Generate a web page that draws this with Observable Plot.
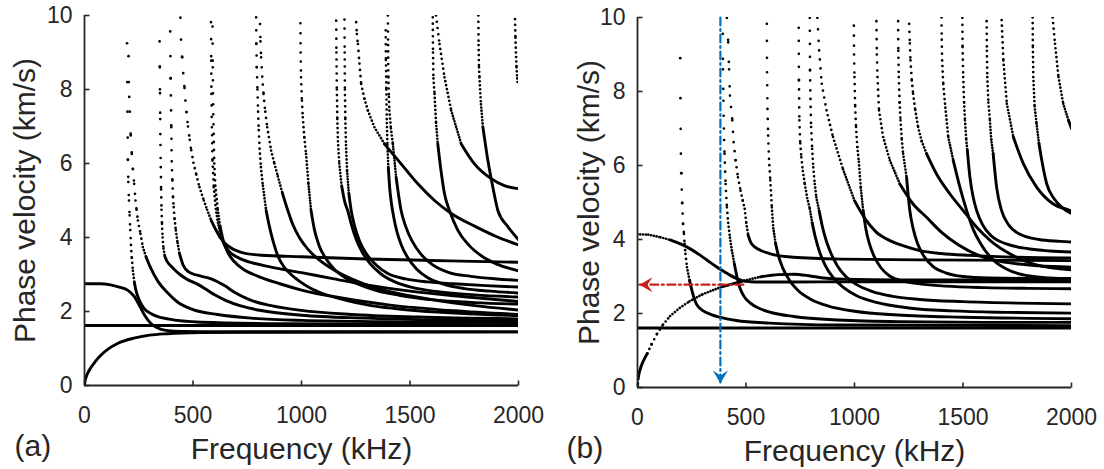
<!DOCTYPE html>
<html><head><meta charset="utf-8">
<script src="https://cdn.jsdelivr.net/npm/d3@7"></script>
<script src="https://cdn.jsdelivr.net/npm/@observablehq/plot@0.6"></script>
<style>
html,body{margin:0;padding:0;background:#fff;}
#wrap{position:relative;width:1104px;height:469px;overflow:hidden;background:#fff;}
.panel{position:absolute;top:0;}
</style></head><body>
<div id="wrap"><div id="pa" class="panel" style="left:0"></div><div id="pb" class="panel" style="left:552px"></div></div>
<script>
// ---------- labels and ticks ----------
const xTicks = [0, 500, 1000, 1500, 2000];
const yTicks = [0, 2, 4, 6, 8, 10];
const xLabel = "Frequency (kHz)";
const yLabel = "Phase velocity (km/s)";
const tagA = "(a)";
const tagB = "(b)";

// ---------- panel (a) modes: [frequency kHz, phase velocity km/s] ----------
const modeA00 = [[0,1.62],[2000,1.62]];
const modeA01 = [[0,0],[2,0.1],[6,0.2],[13,0.31],[28,0.47],[50,0.65],[74,0.81],[110,0.99],[150,1.13],[227,1.28],[300,1.36],[381,1.40],[535,1.43],[800,1.44],[2000,1.45]];
const modeA02 = [[0,2.75],[70,2.75],[120,2.72],[160,2.66],[200,2.57],[230,2.40],[255,2.14],[280,1.87],[305,1.68],[335,1.56],[375,1.49],[450,1.46],[700,1.455],[2000,1.45]];
const modeA03 = [[196,9.25],[197,8.2],[198,7.4],[199,6.7],[200,6.1],[202,5.5],[205,5.0],[208,4.6],[211,4.2],[214,3.8],[218,3.45],[223,3.1],[230,2.78],[238,2.55],[253,2.3],[276,2.07],[307,1.94],[384,1.80],[538,1.71],[922,1.67],[2000,1.64]];
const modeA04 = [[203,8.9],[204,8.2],[206,7.8],[209,7.4],[213,6.76],[218,6.26],[223,5.85],[229,5.45],[235,5.0],[240,4.75],[246,4.46],[258,4.1],[269,3.74],[284,3.47],[307,3.15],[340,2.8],[384,2.5],[430,2.25],[500,2.05],[614,1.92],[768,1.82],[1000,1.76],[1500,1.72],[2000,1.70]];
const modeA05 = [[346,9.3],[347,8.6],[348,7.9],[349,7.2],[350,6.5],[351.5,5.9],[353,5.3],[355,4.75],[357,4.37],[360,4.0],[364,3.7],[370,3.5],[378,3.38],[395,3.25],[415,3.13],[440,3.0],[470,2.88],[520,2.74],[560,2.6],[600,2.45],[650,2.3],[720,2.15],[820,2.02],[1000,1.9],[1300,1.82],[2000,1.74]];
const modeA06 = [[395,9.57],[396,8.9],[397,8.3],[398,7.84],[400,6.98],[402,6.06],[405,5.54],[408,5.09],[411,4.82],[415,4.5],[421,4.19],[429,3.85],[438,3.56],[455,3.25],[480,3.07],[520,2.98],[584,2.88],[645,2.7],[691,2.52],[768,2.3],[860,2.16],[998,2.03],[1229,1.92],[1536,1.85],[2000,1.8]];
const modeA07 = [[442,9.94],[445,9.35],[450,8.87],[455,8.44],[461,8.04],[465,7.7],[470,7.39],[477,7.0],[485,6.64],[492,6.36],[502,6.02],[515,5.7],[530,5.36],[550,5.0],[565,4.75],[584,4.46],[607,4.19],[630,3.96],[660,3.78],[722,3.6],[814,3.52],[1000,3.48],[1300,3.42],[1600,3.38],[2000,3.33]];
const modeA08 = [[583,9.82],[584,8.78],[585,7.88],[587,6.98],[590,6.08],[596,5.36],[605,4.77],[615,4.4],[628,4.05],[645,3.8],[670,3.6],[710,3.45],[770,3.32],[860,3.2],[1000,3.05],[1150,2.88],[1300,2.72],[1500,2.55],[1750,2.4],[2000,2.27]];
const modeA09 = [[590,9.7],[591,8.6],[593,7.6],[595,6.8],[598,6.0],[603,5.4],[614,4.75],[625,4.3],[640,3.9],[660,3.6],[690,3.35],[730,3.15],[800,2.95],[900,2.75],[1000,2.58],[1200,2.35],[1400,2.18],[1700,2.02],[2000,1.92]];
const modeA10 = [[791,9.95],[792,9.23],[794,8.6],[797,8.0],[800,7.4],[803,6.9],[807,6.4],[813,5.9],[822,5.4],[837,4.73],[852,4.3],[868,3.92],[891,3.5],[920,3.2],[952,3.0],[1000,2.78],[1044,2.62],[1100,2.48],[1167,2.36],[1250,2.24],[1321,2.16],[1430,2.08],[1536,2.02],[1766,1.94],[2000,1.89]];
const modeA11 = [[809,9.77],[811,9.3],[814,8.87],[819,8.35],[825,7.88],[833,7.4],[842,6.98],[860,6.35],[875,6.0],[891,5.65],[912,5.2],[937,4.73],[960,4.35],[990,4.0],[1030,3.68],[1080,3.4],[1150,3.12],[1230,2.88],[1330,2.66],[1450,2.48],[1600,2.32],[1800,2.16],[2000,2.04]];
const modeA12 = [[995,9.79],[996,9.0],[998,8.33],[1002,7.7],[1006,7.25],[1013,6.7],[1021,6.26],[1032,5.45],[1044,4.73],[1060,4.2],[1080,3.8],[1110,3.45],[1150,3.15],[1200,2.92],[1270,2.72],[1350,2.56],[1450,2.44],[1600,2.32],[1800,2.24],[2000,2.2]];
const modeA13 = [[1160,9.86],[1161,9.0],[1163,8.0],[1165,7.2],[1168,6.6],[1174,6.0],[1185,5.4],[1200,4.95],[1213,4.73],[1230,4.35],[1252,3.95],[1280,3.6],[1315,3.3],[1365,3.02],[1430,2.8],[1510,2.65],[1620,2.54],[1800,2.45],[2000,2.39]];
const modeA14 = [[1198,9.89],[1199,9.0],[1200,8.0],[1202,7.2],[1205,6.5],[1210,5.8],[1218,5.2],[1229,4.73],[1245,4.3],[1268,3.9],[1300,3.55],[1345,3.25],[1400,3.02],[1480,2.88],[1580,2.8],[1700,2.75],[1850,2.7],[2000,2.66]];
const modeA15 = [[1252,9.82],[1255,9.5],[1260,9.23],[1267,8.7],[1275,8.15],[1290,7.75],[1306,7.43],[1336,6.98],[1382,6.53],[1459,5.99],[1536,5.45],[1613,5.0],[1690,4.65],[1800,4.3],[1900,4.02],[2000,3.8]];
const modeA16 = [[1398,10.0],[1399,9.2],[1400,8.33],[1403,7.8],[1405,7.43],[1412,6.95],[1421,6.53],[1436,5.63],[1459,4.73],[1480,4.3],[1510,3.9],[1550,3.55],[1600,3.28],[1680,3.05],[1780,2.95],[1900,2.88],[2000,2.84]];
const modeA17 = [[1388,9.6],[1389,8.8],[1391,8.0],[1393,7.2],[1396,6.5],[1400,5.9],[1407,5.3],[1415,4.9],[1425,4.55],[1440,4.15],[1460,3.8],[1490,3.45],[1530,3.15],[1580,2.92],[1650,2.75],[1750,2.62],[1870,2.55],[2000,2.5]];
const modeA18 = [[1605,9.95],[1606,9.0],[1608,8.3],[1613,7.88],[1620,7.1],[1628,6.53],[1643,5.8],[1659,5.18],[1682,4.73],[1720,4.2],[1770,3.8],[1830,3.5],[1900,3.28],[2000,3.1]];
const modeA19 = [[1620,10.0],[1636,9.23],[1659,8.33],[1690,7.43],[1736,6.53],[1797,5.99],[1874,5.59],[1935,5.4],[2000,5.32]];
const modeA20 = [[1815,10.0],[1816,9.2],[1818,8.6],[1820,8.33],[1827,7.6],[1836,6.98],[1859,6.08],[1882,5.35],[1905,4.73],[1950,4.3],[2000,3.94]];
const modeA21 = [[1984,9.9],[1986,9.4],[1988,9.0],[1991,8.6],[1994,8.3],[1997,8.15]];

// ---------- panel (b) modes ----------
const modeB00 = [[0,1.61],[2000,1.61]];
const modeB01 = [[0,0],[1,0.12],[3,0.24],[8,0.4],[16,0.56],[28,0.73],[45,0.92],[65,1.17],[90,1.45],[118,1.7],[150,1.93],[195,2.15],[240,2.33],[300,2.52],[388,2.72],[480,2.87],[566,2.99],[650,3.05],[720,3.06],[790,3.02],[855,2.96],[950,2.93],[1200,2.91],[2000,2.91]];
const modeB02 = [[0,4.14],[50,4.13],[106,4.06],[150,3.99],[198,3.88],[245,3.74],[290,3.57],[330,3.4],[367,3.25],[400,3.13],[428,3.03],[455,2.95],[482,2.89],[520,2.86],[566,2.85],[700,2.85],[1000,2.86],[2000,2.86]];
const modeB03 = [[197,8.9],[198,7.82],[199,6.99],[200,6.32],[202,5.79],[204,5.35],[206,4.98],[208,4.7],[210,4.42],[214,4.15],[217,3.88],[221,3.61],[228,3.25],[240,2.89],[255,2.53],[271,2.26],[301,2.08],[340,1.97],[378,1.9],[455,1.81],[609,1.74],[917,1.69],[2000,1.67]];
const modeB04 = [[393,9.56],[394,8.6],[396,7.75],[398,7.0],[401,6.32],[406,5.5],[412,4.87],[418,4.45],[426,4.05],[435,3.7],[446,3.35],[458,3.0],[471,2.71],[490,2.47],[520,2.28],[560,2.14],[620,2.02],[720,1.92],[900,1.83],[1200,1.78],[1600,1.76],[2000,1.76]];
const modeB05 = [[412,9.99],[418,9.33],[422,8.6],[426,7.89],[437,7.22],[443,6.63],[452,6.14],[463,5.68],[475,5.32],[485,5.05],[494,4.83],[501,4.45],[510,4.12],[522,3.92],[540,3.8],[566,3.71],[609,3.62],[718,3.52],[935,3.47],[1300,3.45],[2000,3.43]];
const modeB06 = [[596,9.83],[597,8.52],[599,7.53],[602,6.81],[606,6.18],[612,5.6],[619,4.87],[626,4.3],[636,3.9],[650,3.55],[670,3.22],[700,2.9],[740,2.62],[800,2.38],[880,2.2],[1000,2.06],[1200,1.96],[1500,1.9],[2000,1.86]];
const modeB07 = [[743,9.72],[744,8.3],[746,7.22],[750,6.6],[755,6.22],[762,5.85],[771,5.5],[782,5.12],[794,4.83],[805,4.45],[820,4.05],[840,3.65],[865,3.3],[900,2.98],[950,2.7],[1010,2.48],[1100,2.3],[1250,2.15],[1450,2.07],[1700,2.03],[2000,2.01]];
const modeB08 = [[794,9.99],[795,8.57],[797,7.8],[800,7.04],[805,6.45],[810,5.95],[817,5.5],[824,5.14],[837,4.78],[850,4.4],[868,4.0],[890,3.65],[920,3.3],[960,3.0],[1010,2.78],[1080,2.6],[1170,2.47],[1300,2.38],[1500,2.32],[1750,2.28],[2000,2.26]];
const modeB09 = [[829,9.99],[837,9.11],[849,8.21],[871,7.49],[901,6.77],[947,5.9],[1000,5.05],[1050,4.55],[1100,4.2],[1163,3.97],[1230,3.82],[1301,3.7],[1400,3.62],[1532,3.57],[1750,3.52],[2000,3.5]];
const modeB10 = [[997,9.78],[998,9.0],[1000,8.39],[1003,7.6],[1007,7.04],[1013,6.5],[1020,6.1],[1029,5.4],[1040,4.78],[1052,4.3],[1068,3.9],[1090,3.55],[1120,3.25],[1160,3.02],[1220,2.88],[1300,2.8],[1420,2.74],[1600,2.7],[1800,2.68],[2000,2.67]];
const modeB11 = [[1101,9.9],[1103,9.0],[1106,8.39],[1113,7.49],[1132,6.77],[1163,6.14],[1209,5.5],[1270,4.96],[1332,4.6],[1400,4.2],[1480,3.85],[1580,3.55],[1700,3.38],[1850,3.29],[2000,3.25]];
const modeB12 = [[1201,9.9],[1202,9.1],[1204,8.39],[1208,7.7],[1212,7.22],[1218,6.7],[1224,6.32],[1240,5.68],[1255,4.78],[1270,4.3],[1290,3.9],[1320,3.55],[1360,3.28],[1420,3.1],[1500,3.0],[1620,2.96],[1800,2.95],[2000,2.95]];
const modeB13 = [[1252,9.83],[1255,9.3],[1258,8.84],[1264,8.3],[1270,7.94],[1280,7.5],[1293,7.04],[1310,6.65],[1332,6.32],[1378,5.77],[1440,5.23],[1501,4.78],[1560,4.35],[1630,3.95],[1720,3.6],[1830,3.33],[2000,3.18]];
const modeB14 = [[1401,10.0],[1402,9.4],[1404,8.84],[1409,8.2],[1417,7.67],[1432,6.77],[1455,6.14],[1486,5.41],[1517,4.78],[1545,4.3],[1580,3.9],[1630,3.5],[1700,3.2],[1800,3.02],[1900,2.96],[2000,2.93]];
const modeB15 = [[1497,9.99],[1498,9.2],[1501,8.39],[1505,7.7],[1509,7.22],[1515,6.7],[1520,6.41],[1532,5.68],[1547,5.14],[1563,4.78],[1590,4.4],[1630,4.1],[1700,3.88],[1800,3.75],[1900,3.69],[2000,3.66]];
const modeB16 = [[1609,9.9],[1610,9.1],[1612,8.39],[1617,7.7],[1624,7.22],[1630,6.7],[1639,6.32],[1655,5.41],[1678,4.78],[1710,4.4],[1760,4.15],[1850,4.0],[1950,3.95],[2000,3.93]];
const modeB17 = [[1678,9.93],[1686,8.84],[1702,7.67],[1732,6.77],[1778,6.05],[1840,5.41],[1916,4.96],[1993,4.78],[2000,4.76]];
const modeB18 = [[1821,10.0],[1822,9.2],[1824,8.39],[1830,7.6],[1839,7.13],[1850,6.6],[1863,6.14],[1886,5.5],[1920,5.1],[1960,4.85],[2000,4.7]];
const modeB19 = [[1913,10.0],[1924,9.29],[1940,8.39],[1962,7.67],[1986,7.22],[2000,7.0]];

// ---------- annotation arrows in panel (b) ----------
const blueArrowF = [382, 382];
const blueArrowV = [10, 0.11];
const redArrowF = [488, 9];
const redArrowV = [2.78, 2.78];

const modesA = [modeA00,modeA01,modeA02,modeA03,modeA04,modeA05,modeA06,modeA07,modeA08,modeA09,modeA10,modeA11,modeA12,modeA13,modeA14,modeA15,modeA16,modeA17,modeA18,modeA19,modeA20,modeA21];
const modesB = [modeB00,modeB01,modeB02,modeB03,modeB04,modeB05,modeB06,modeB07,modeB08,modeB09,modeB10,modeB11,modeB12,modeB13,modeB14,modeB15,modeB16,modeB17,modeB18,modeB19];

// ---------- rendering ----------
const W = 552, H = 469;
const INK = "#000000", AXIS = "#262626", BLUE = "#0072BD", RED = "#C8201E";
const KSTEP = 3.2; // curves were sampled at uniform steps of f/v
const GAPS = [2.8,3.2,3.6,4,4.5,5,5.6,6.3,7,8,9,10,11.5,13,15,17,19.5,22,25,28,32,36,40,45];
const FONT = "'Liberation Sans', Arial, Helvetica, sans-serif";

const tickUp = {draw(ctx){ ctx.moveTo(0,0); ctx.lineTo(0,-5); }};
const tickRight = {draw(ctx){ ctx.moveTo(0,0); ctx.lineTo(5,0); }};
const headDown = {draw(ctx){ ctx.moveTo(0,0); ctx.lineTo(-7.5,-13); ctx.lineTo(0,-8); ctx.lineTo(7.5,-13); ctx.closePath(); }};
const headLeft = {draw(ctx){ ctx.moveTo(0,0); ctx.lineTo(13,-7.5); ctx.lineTo(8,0); ctx.lineTo(13,7.5); ctx.closePath(); }};

function splitModes(modes, pxF, pxV) {
  const solid = [], dotted = new Map();
  modes.forEach((m, ci) => {
    let runId = null, runCount = 0;
    for (let i = 0; i < m.length - 1; i++) {
      const [f0, v0] = m[i], [f1, v1] = m[i + 1];
      const k0 = v0 > 0 ? f0 / v0 : 0, k1 = v1 > 0 ? f1 / v1 : 0;
      const L = Math.hypot((f1 - f0) * pxF, (v1 - v0) * pxV);
      const n = Math.abs(k1 - k0) / KSTEP;
      const spacing = n > 0 ? L / n : Infinity;
      if (spacing > 2.7) {
        const g = Math.min(45, spacing);
        const gb = GAPS.reduce((a, b) => Math.abs(b - g) < Math.abs(a - g) ? b : a);
        if (!dotted.has(gb)) dotted.set(gb, []);
        const id = `${ci}d${i}`;
        dotted.get(gb).push({f: f0, v: v0, z: id}, {f: f1, v: v1, z: id});
        runId = null;
      } else {
        if (runId === null) { runId = `${ci}s${runCount++}`; solid.push({f: f0, v: v0, z: runId}); }
        solid.push({f: f1, v: v1, z: runId});
      }
    }
  });
  return {solid, dotted};
}

function makePanel(modes, L, extra) {
  const pxF = (W - L.ml - L.mr) / 2000, pxV = (H - L.mt - L.mb) / 10;
  const {solid, dotted} = splitModes(modes, pxF, pxV);
  const marks = [
    Plot.line(solid, {x: "f", y: "v", z: "z", curve: "monotone-x", stroke: INK, strokeWidth: 2.9, clip: true}),
    ...[...dotted].map(([g, rows]) => Plot.line(rows, {x: "f", y: "v", z: "z", stroke: INK, strokeWidth: 2.7, strokeLinecap: "round", strokeDasharray: `0 ${g}`, clip: true})),
    ...extra,
    Plot.ruleX([0], {stroke: AXIS, strokeWidth: 1.8}),
    Plot.ruleY([0], {stroke: AXIS, strokeWidth: 1.8}),
    Plot.dot(xTicks, {x: d => d, y: 0, symbol: tickUp, stroke: AXIS, fill: "none", strokeWidth: 1.6}),
    Plot.dot(yTicks, {x: 0, y: d => d, symbol: tickRight, stroke: AXIS, fill: "none", strokeWidth: 1.6}),
    Plot.axisX({ticks: xTicks, tickSize: 0, tickPadding: 21, label: null, tickFormat: d => String(d), fontSize: 23}),
    Plot.axisY({ticks: yTicks, tickSize: 0, tickPadding: 12, label: null, tickFormat: d => String(d), fontSize: 23}),
    Plot.text([xLabel], {text: d => d, frameAnchor: "bottom", dy: 52.5, lineAnchor: "top", textAnchor: "middle", fontSize: 30, fill: AXIS}),
    Plot.text([yLabel], {text: d => d, frameAnchor: "left", dx: L.ylabDx, rotate: -90, lineAnchor: "top", textAnchor: "middle", fontSize: 30, fill: AXIS}),
    Plot.text([L.tag], {text: d => d, frameAnchor: "bottom-left", dx: L.tagDx, dy: 49.5, lineAnchor: "top", textAnchor: "start", fontSize: 30, fill: AXIS})
  ];
  return Plot.plot({
    width: W, height: H,
    marginLeft: L.ml, marginRight: L.mr, marginTop: L.mt, marginBottom: L.mb,
    x: {domain: [0, 2000]},
    y: {domain: [0, 10]},
    style: {fontFamily: FONT, fontSize: "23px", color: AXIS, background: "transparent", overflow: "visible"},
    marks
  });
}

const blueRows = blueArrowF.map((f, i) => ({f, v: blueArrowV[i]}));
const redRows = redArrowF.map((f, i) => ({f, v: redArrowV[i]}));
const arrowsB = [
  Plot.line(blueRows, {x: "f", y: "v", stroke: BLUE, strokeWidth: 2.2, strokeDasharray: "8 3.5 2 3.5"}),
  Plot.dot([blueRows[1]], {x: "f", y: "v", symbol: headDown, fill: BLUE, stroke: "none"}),
  Plot.line(redRows, {x: "f", y: "v", stroke: RED, strokeWidth: 2.2, strokeDasharray: "8 3.5 2 3.5"}),
  Plot.dot([redRows[1]], {x: "f", y: "v", symbol: headLeft, fill: RED, stroke: "none"})
];

document.getElementById("pa").appendChild(makePanel(modesA, {ml: 84, mr: 34, mt: 15, mb: 84, tag: tagA, tagDx: -70, ylabDx: -71}, []));
document.getElementById("pb").appendChild(makePanel(modesB, {ml: 85, mr: 33, mt: 17, mb: 82, tag: tagB, tagDx: -71, ylabDx: -60}, arrowsB));
</script>
</body></html>
